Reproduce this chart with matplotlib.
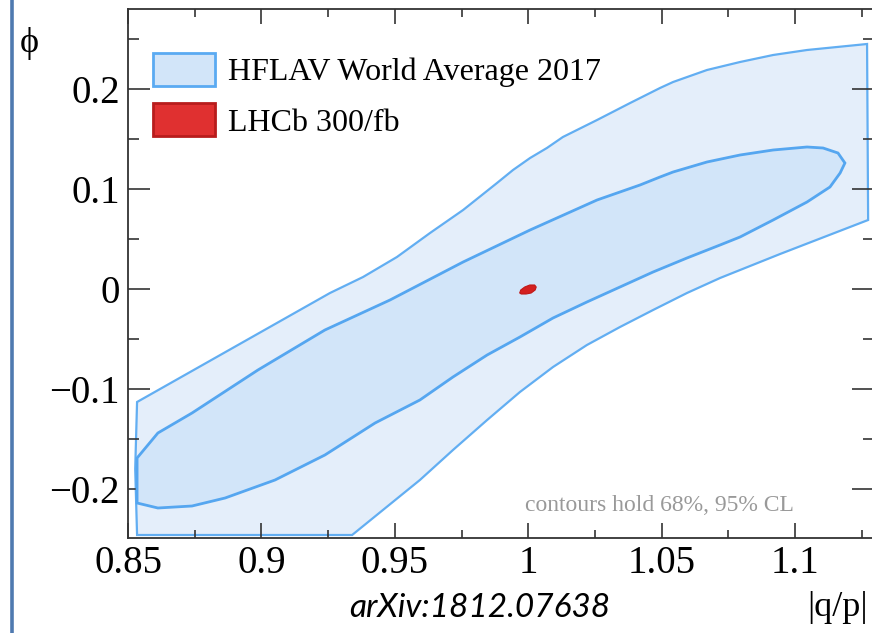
import matplotlib
matplotlib.use("Agg")
import matplotlib.pyplot as plt
from matplotlib.lines import Line2D
from matplotlib.patches import Patch
from matplotlib.ticker import MultipleLocator

# HFLAV 2017 world average, 95% CL region (clipped by the fit range)
outer_x = [0.8534, 0.9340, 0.9594, 0.9718, 0.9846, 0.9969, 1.0093, 1.0220,
           1.0344, 1.0468, 1.0595, 1.0719, 1.0944, 1.1274, 1.1270, 1.1045,
           1.0918, 1.0794, 1.0670, 1.0543, 1.0494, 1.0382, 1.0258, 1.0130,
           1.0070, 1.0007, 0.9943, 0.9883, 0.9756, 0.9632, 0.9508, 0.9381,
           0.9257, 0.8534, 0.8527]
outer_y = [-0.246, -0.246, -0.191, -0.161, -0.131, -0.103, -0.078, -0.056,
           -0.038, -0.021, -0.004, 0.011, 0.035, 0.069, 0.245, 0.239,
           0.234, 0.227, 0.219, 0.207, 0.201, 0.186, 0.169, 0.152,
           0.141, 0.131, 0.119, 0.106, 0.079, 0.056, 0.032, 0.012,
           -0.004, -0.113, -0.180]

# 68% CL region
inner_x = [0.8534, 0.8612, 0.8740, 0.8987, 0.9238, 0.9482, 0.9756, 1.0007,
           1.0258, 1.0419, 1.0494, 1.0543, 1.0670, 1.0794, 1.0918, 1.1045,
           1.1105, 1.1161, 1.1187, 1.1169, 1.1131, 1.1045, 1.0918, 1.0794,
           1.0719, 1.0595, 1.0468, 1.0344, 1.0220, 1.0093, 0.9969, 0.9846,
           0.9718, 0.9594, 0.9426, 0.9238, 0.9051, 0.8864, 0.8740, 0.8612,
           0.8534]
inner_y = [-0.169, -0.144, -0.124, -0.081, -0.041, -0.011, 0.027, 0.059,
           0.089, 0.104, 0.112, 0.117, 0.127, 0.134, 0.139, 0.142,
           0.141, 0.136, 0.126, 0.116, 0.102, 0.087, 0.069, 0.052,
           0.044, 0.031, 0.017, 0.002, -0.013, -0.029, -0.048, -0.066,
           -0.088, -0.111, -0.134, -0.166, -0.191, -0.209, -0.217, -0.219,
           -0.214]

# LHCb Upgrade II projection, 300/fb
lhcb_x = [0.9968, 0.9972, 0.9987, 1.0006, 1.0024, 1.0030, 1.0026, 1.0011,
          0.9992, 0.9974]
lhcb_y = [-0.004, -0.001, 0.002, 0.004, 0.004, 0.002, -0.001, -0.004,
          -0.005, -0.005]

x_ticks = [0.85, 0.9, 0.95, 1.0, 1.05, 1.1]
x_labels = ["0.85", "0.9", "0.95", "1", "1.05", "1.1"]
y_ticks = [-0.2, -0.1, 0.0, 0.1, 0.2]
y_labels = ["\u22120.2", "\u22120.1", "0", "0.1", "0.2"]

outer_face = "#e4eefa"
inner_face = "#d2e5f9"
edge = "#55a6f0"
red_face = "#d42020"
serif = ["Liberation Serif", "DejaVu Serif"]

fig = plt.figure(figsize=(8.72, 6.33), dpi=100)
ax = fig.add_axes([128 / 872, 95 / 633, 746 / 872, 529 / 633])

ax.fill(outer_x, outer_y, facecolor=outer_face, edgecolor="#62aef2", lw=1.6, zorder=1)
ax.fill(inner_x, inner_y, facecolor=inner_face, edgecolor=edge, lw=2.0, zorder=2)
ax.fill(lhcb_x, lhcb_y, facecolor=red_face, edgecolor="#c01818", lw=0.8, zorder=3)

ax.set_xlim(0.85, 1.1296)
ax.set_ylim(-0.249, 0.280)

ax.set_xticks(x_ticks)
ax.set_xticklabels(x_labels, family=serif, fontsize=28)
ax.set_yticks(y_ticks)
ax.set_yticklabels(y_labels, family=serif, fontsize=28)
ax.xaxis.set_minor_locator(MultipleLocator(0.025))
ax.yaxis.set_minor_locator(MultipleLocator(0.05))

ax.tick_params(which="both", direction="in", top=True, right=True, color="#333333", width=1.2)
ax.tick_params(axis="x", which="major", length=11, pad=5)
ax.tick_params(axis="x", which="minor", length=5.5)
ax.tick_params(axis="y", which="major", length=16, pad=6)
ax.tick_params(axis="y", which="minor", length=8)
for sp in ax.spines.values():
    sp.set_color("#333333")
    sp.set_linewidth(1.3)

handles = [
    Patch(facecolor=inner_face, edgecolor="#5aaaf2", lw=2.0),
    Patch(facecolor="#e03030", edgecolor="#b81c1c", lw=2.0),
]
ax.legend(handles, ["HFLAV World Average 2017", "LHCb 300/fb"],
          loc="upper left", bbox_to_anchor=(0.033, 0.917), frameon=False,
          prop={"family": serif, "size": 23}, handlelength=1.95, handleheight=1.22,
          handletextpad=0.4, labelspacing=0.5, borderpad=0, borderaxespad=0)

ax.text(0.713, 0.062, "contours hold 68%, 95% CL", transform=ax.transAxes,
        ha="center", va="center", family=serif, fontsize=17, color="#999999")

fig.text(29 / 872, 1 - 44 / 633, "\u03d5", family=serif, fontsize=26,
         ha="center", va="center")
fig.text(868 / 872, 1 - 608 / 633, "|q/p|", family=serif, fontsize=26,
         ha="right", va="center")
fig.text(480 / 872, 1 - 608 / 633, "arXiv:1812.07638", family=["Lato", "DejaVu Sans"],
         style="italic", fontsize=24, ha="center", va="center")

# slide border on the left
fig.add_artist(Line2D([12 / 872, 12 / 872], [0, 1], transform=fig.transFigure,
                      color="#4f7ab0", lw=2.6))

fig.savefig("out.png", dpi=100)
